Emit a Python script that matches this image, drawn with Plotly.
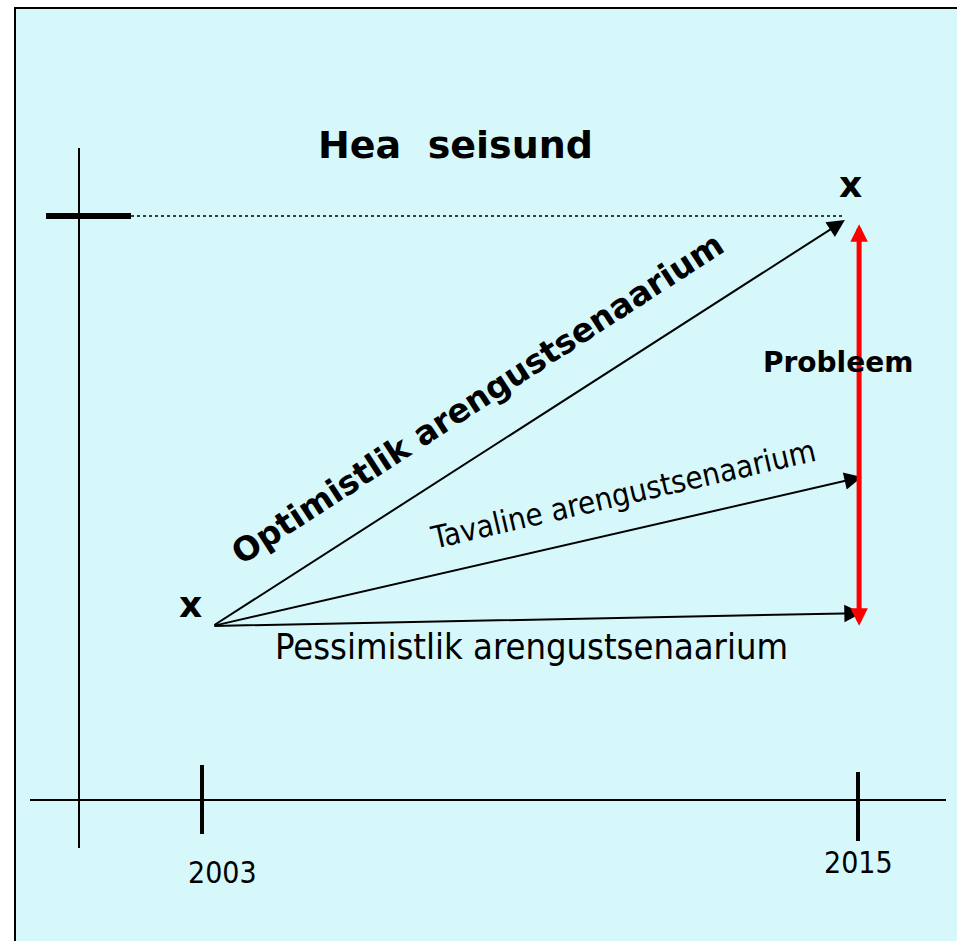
import plotly.graph_objects as go

# ---------------- data ----------------
axis_years = [2003, 2015]
axis_year_labels = ["2003", "2015"]
start_year = 2003.2
start_value = 29.8
scenario_names = ["Optimistlik arengustsenaarium",
                  "Tavaline arengustsenaarium",
                  "Pessimistlik arengustsenaarium"]
scenario_end_years = [2014.76, 2015.07, 2015.07]
scenario_end_values = [99.3, 55.3, 32.0]
good_state_value = 100
good_state_label = "Hea  seisund"
problem_label = "Probleem"
problem_year = 2015.02
problem_range = [29.6, 98.6]

# ---------------- layout constants ----------------
W, H = 957, 941
ML, MT = 15, 8          # frame left / top edge in pixels
PXY = 54.667            # pixels per year
PXU = 5.84              # pixels per value unit
X0PX, Y0PX = 202, 800   # pixel of year 2003 / value 0

def yr(px):
    return 2003 + (px - X0PX) / PXY

def val(py):
    return (Y0PX - py) / PXU

xr = [yr(ML), yr(W)]
yrng = [val(H), val(MT)]

BG = "#D6F8FB"
BOLD = "DejaVu Sans, Verdana, sans-serif"
REG = "DejaVu Sans Condensed, Liberation Sans Narrow, Liberation Sans, sans-serif"

fig = go.Figure()

def seg(x, y, width, color="black", dash="solid"):
    fig.add_trace(go.Scatter(x=x, y=y, mode="lines", hoverinfo="skip",
                             line=dict(color=color, width=width, dash=dash),
                             showlegend=False))

# vertical axis
seg([yr(79), yr(79)], [val(148), val(848)], 2)
# horizontal axis
seg([yr(30), yr(946)], [0, 0], 2)
# year ticks
seg([axis_years[0]] * 2, [val(765), val(834)], 4)
seg([axis_years[1]] * 2, [val(772), val(841)], 4)
# good state mark and dotted line
seg([yr(46), yr(131)], [good_state_value] * 2, 6)
seg([yr(131), scenario_end_years[0]], [good_state_value] * 2, 1.5, "black", "dot")

ann = []
# scenario arrows
for ey, ev in zip(scenario_end_years, scenario_end_values):
    ann.append(dict(x=ey, y=ev, ax=start_year, ay=start_value,
                    xref="x", yref="y", axref="x", ayref="y",
                    text="", showarrow=True, arrowhead=2, arrowsize=1.75,
                    arrowwidth=2, arrowcolor="black", standoff=0))
# problem arrow
ann.append(dict(x=problem_year, y=problem_range[1], ax=problem_year, ay=problem_range[0],
                xref="x", yref="y", axref="x", ayref="y",
                text="", showarrow=True, arrowhead=2, startarrowhead=2,
                arrowside="end+start", arrowsize=0.7, startarrowsize=0.7,
                arrowwidth=5, arrowcolor="#FF0000", standoff=0, startstandoff=0))

def txt(x, y, s, size, family, bold=False, angle=0):
    ann.append(dict(x=x, y=y, xref="x", yref="y", text=s, showarrow=False,
                    textangle=angle, xanchor="center", yanchor="middle",
                    font=dict(size=size, family=family, color="black",
                              weight="bold" if bold else "normal")))

txt(yr(455), val(145), good_state_label, 38, BOLD, True)
txt(yr(838), val(362), problem_label, 28, BOLD, True)
txt(yr(850), val(184), "x", 36, BOLD, True)
txt(yr(190), val(604), "x", 36, BOLD, True)
txt(yr(477), val(398), scenario_names[0], 33, BOLD, True, -33)
txt(yr(623), val(494), scenario_names[1], 31, REG, False, -13)
txt(yr(531), val(646), scenario_names[2], 36, REG, False, 0)
txt(axis_years[0] + 20 / PXY, val(872), axis_year_labels[0], 30, REG)
txt(axis_years[1], val(862), axis_year_labels[1], 30, REG)

fig.update_layout(
    width=W, height=H,
    margin=dict(l=ML, r=0, t=MT, b=0),
    paper_bgcolor="white", plot_bgcolor=BG,
    annotations=ann,
    showlegend=False,
    hovermode=False,
    shapes=[
        dict(type="line", xref="paper", yref="paper", x0=0, x1=0, y0=0, y1=1.001,
             line=dict(color="black", width=2)),
        dict(type="line", xref="paper", yref="paper", x0=-0.001, x1=1, y0=1, y1=1,
             line=dict(color="black", width=2)),
    ],
    xaxis=dict(range=xr, visible=False),
    yaxis=dict(range=yrng, visible=False),
)

fig.write_html(
    "out.html",
    config={"displayModeBar": False},
    post_script="document.body.style.margin='0';document.body.style.overflow='hidden';",
)
